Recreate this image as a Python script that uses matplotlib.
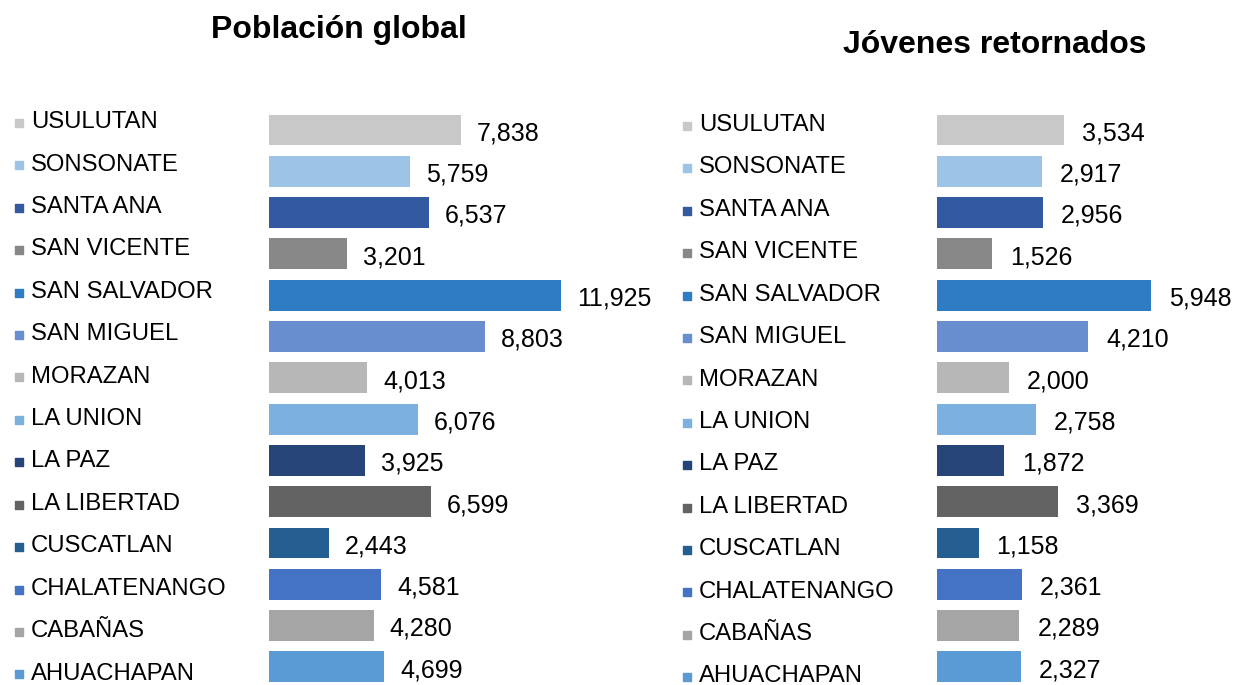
import matplotlib.pyplot as plt
import matplotlib.transforms as mtransforms

departamentos = ['USULUTAN', 'SONSONATE', 'SANTA ANA', 'SAN VICENTE', 'SAN SALVADOR',
                 'SAN MIGUEL', 'MORAZAN', 'LA UNION', 'LA PAZ', 'LA LIBERTAD',
                 'CUSCATLAN', 'CHALATENANGO', 'CABAÑAS', 'AHUACHAPAN']
poblacion_global = [7838, 5759, 6537, 3201, 11925, 8803, 4013, 6076, 3925, 6599,
                    2443, 4581, 4280, 4699]
jovenes_retornados = [3534, 2917, 2956, 1526, 5948, 4210, 2000, 2758, 1872, 3369,
                      1158, 2361, 2289, 2327]
colores = ['#C8C8C8', '#9DC3E6', '#335AA1', '#878787', '#2F7CC4', '#698ED0', '#B7B7B7',
           '#7CB0DF', '#264478', '#636363', '#255E91', '#4472C4', '#A5A5A5', '#5B9BD5']

plt.rcParams['font.family'] = ['Liberation Sans', 'DejaVu Sans']

W, H = 1235, 685
fig = plt.figure(figsize=(W / 100, H / 100), dpi=100)

row = 41.3  # px between bars
top_px = 130 - 0.5 * row


def panel(values, title, bar_x, px_per_unit, title_x, title_y, mark_x, gap, lab_dy):
    width_px = 300
    ax = fig.add_axes([bar_x / W, 0, width_px / W, 1 - top_px / H])
    n_rows = (H - top_px) / row
    ax.set_ylim(-0.5 + n_rows, -0.5)
    ax.set_xlim(0, width_px / px_per_unit)
    ax.axis('off')
    ys = list(range(len(values)))
    ax.barh(ys, values, height=0.75, color=colores)
    trans = mtransforms.blended_transform_factory(fig.transFigure, ax.transData)
    for i, (name, v) in enumerate(zip(departamentos, values)):
        ly = -0.19 + lab_dy + i * 1.027
        ax.text((mark_x + 12) / W, ly, name, transform=trans, fontsize=17.2,
                va='center', ha='left', clip_on=False)
        ax.scatter([mark_x / W], [ly + 0.02], marker='s', s=26, color=colores[i],
                   transform=trans, clip_on=False)
        ax.text(v + gap / px_per_unit, i + 0.08, f'{v:,}', fontsize=18,
                va='center', ha='left', clip_on=False)
    fig.text(title_x / W, 1 - title_y / H, title, fontsize=23, fontweight='bold',
             ha='center', va='center')


panel(poblacion_global, 'Población global', 269, 192 / 7838, 339, 30, 19, 16, 0)
panel(jovenes_retornados, 'Jóvenes retornados', 937, 127 / 3534, 995, 45, 687, 18, 0.07)

fig.savefig('out.png', dpi=100)
